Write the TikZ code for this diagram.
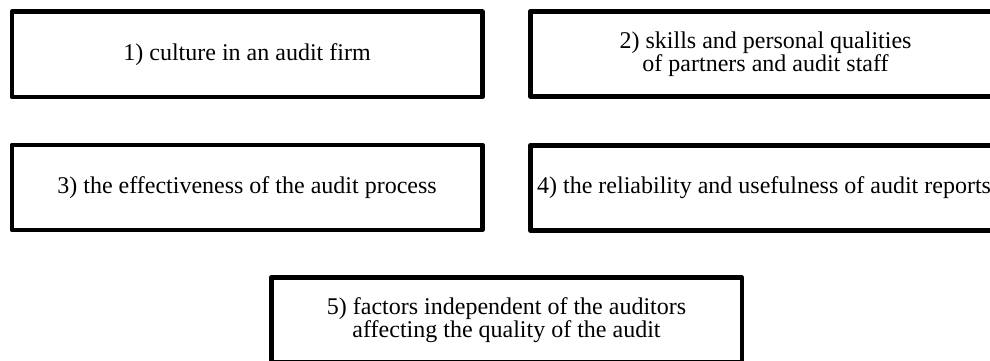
\documentclass[tikz,border=0pt]{standalone}
\usepackage{fontspec}
\setmainfont{Liberation Serif}
\begin{document}
\begin{tikzpicture}[x=1pt,y=-1pt,
  boxframe/.style={draw=black, line width=4.6pt, line join=round, inner sep=0pt},
  boxtext/.style={align=center, font=\fontsize{24}{21.5}\selectfont, inner sep=0pt}]
\useasboundingbox (0,0) rectangle (990,361);
\clip (0,0) rectangle (990,361);
\node[boxframe, minimum width=470.5pt, minimum height=85pt, anchor=north west] (b1) at (9.5,9.5) {};
\node[boxframe, minimum width=470.5pt, minimum height=85pt, anchor=north west] (b2) at (528,9) {};
\node[boxframe, minimum width=470.5pt, minimum height=85pt, anchor=north west] (b3) at (9.5,142.5) {};
\node[boxframe, minimum width=470.5pt, minimum height=85pt, anchor=north west] (b4) at (528,143) {};
\node[boxframe, minimum width=470.5pt, minimum height=85pt, anchor=north west] (b5) at (269,275) {};
\node[boxtext] (t1) at (b1.center) {1) culture in an audit firm};
\node[boxtext] (t2) at (b2.center) {2) skills and personal qualities\\of partners and audit staff};
\node[boxtext] (t3) at (b3.center) {3) the effectiveness of the audit process};
\node[boxtext] (t4) at ([xshift=-1.5pt]b4.center) {4) the reliability and usefulness of audit reports};
\node[boxtext] (t5) at (b5.center) {5) factors independent of the auditors\\affecting the quality of the audit};
\end{tikzpicture}
\end{document}
